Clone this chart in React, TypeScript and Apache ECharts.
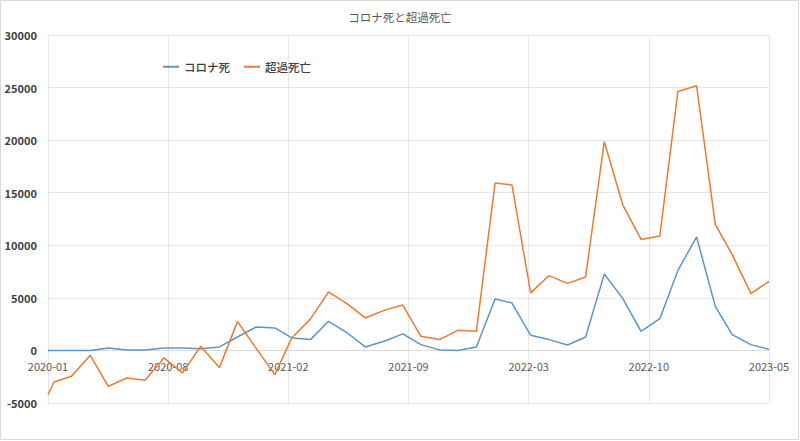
import React, { useEffect, useRef } from "react";
import * as echarts from "echarts";

const TITLE = "コロナ死と超過死亡";
const SERIES_NAMES = ["コロナ死", "超過死亡"];

const dates = [
  "2020-01-22", "2020-02-01", "2020-03-01", "2020-04-01", "2020-05-01", "2020-06-01",
  "2020-07-01", "2020-08-01", "2020-09-01", "2020-10-01", "2020-11-01", "2020-12-01",
  "2021-01-01", "2021-02-01", "2021-03-01", "2021-04-01", "2021-05-01", "2021-06-01",
  "2021-07-01", "2021-08-01", "2021-09-01", "2021-10-01", "2021-11-01", "2021-12-01",
  "2022-01-01", "2022-02-01", "2022-03-01", "2022-04-01", "2022-05-01", "2022-06-01",
  "2022-07-01", "2022-08-01", "2022-09-01", "2022-10-01", "2022-11-01", "2022-12-01",
  "2023-01-01", "2023-02-01", "2023-03-01", "2023-04-01", "2023-05-01",
];

const coronaDeaths = [
  0, 0, 0, 0, 240, 50, 50, 240, 240, 170, 330, 1280,
  2230, 2140, 1190, 1030, 2770, 1660, 330, 870, 1570, 550, 50, 0,
  330, 4900, 4510, 1440, 1030, 520, 1280, 7270, 4900, 1820, 3020, 7610,
  10790, 4190, 1500, 550, 100,
];

const excessDeaths = [
  -4200, -3000, -2460, -465, -3410, -2620, -2840, -715, -2140, 390, -1635, 2740,
  200, -2300, 1190, 3000, 5560, 4420, 3090, 3810, 4320, 1340, 1030, 1910,
  1820, 15930, 15730, 5470, 7110, 6380, 6990, 19850, 13790, 10560, 10880, 24630,
  25170, 11990, 9110, 5400, 6570,
];

const Y_MIN = -5000;
const Y_MAX = 30000;
const Y_STEP = 5000;
const X_DIVISIONS = 6;

const GRID_TOP = 35;
const GRID_BOTTOM = 38;
const CHART_H = 441;

const FONT = "'Noto Sans CJK JP', 'Noto Sans', sans-serif";

function dayNum(d: string): number {
  const [y, m, dd] = d.split("-").map(Number);
  return Date.UTC(y, m - 1, dd) / 86400000;
}

function fmtMonth(dayOffset: number, t0: number): string {
  const dt = new Date((t0 + Math.round(dayOffset)) * 86400000);
  const y = dt.getUTCFullYear();
  const m = dt.getUTCMonth() + 1;
  return `${y}-${m < 10 ? "0" + m : m}`;
}

export default function App() {
  const ref = useRef<HTMLDivElement>(null);

  useEffect(() => {
    document.body.style.margin = "0";
    if (!ref.current) return;
    const chart = echarts.init(ref.current, undefined, { renderer: "svg" });
    const t0 = dayNum(dates[0]);
    const xs = dates.map((d) => dayNum(d) - t0);
    const span = xs[xs.length - 1];
    const gridH = CHART_H - GRID_TOP - GRID_BOTTOM;
    // raise the category axis from the grid bottom up to the zero line
    const zeroOffset = -((0 - Y_MIN) / (Y_MAX - Y_MIN)) * gridH;

    chart.setOption({
      animation: false,
      backgroundColor: "#ffffff",
      title: {
        text: TITLE,
        left: "center",
        top: 6,
        textStyle: { fontSize: 11.5, fontWeight: "normal", color: "#595959", fontFamily: FONT },
      },
      legend: {
        left: 158,
        top: 56,
        icon: "rect",
        itemWidth: 16,
        itemHeight: 2,
        itemGap: 14,
        textStyle: { fontSize: 11.5, fontWeight: 500, color: "#404040", fontFamily: FONT },
        data: SERIES_NAMES,
      },
      grid: { left: 48, right: 31, top: GRID_TOP, bottom: GRID_BOTTOM, containLabel: false },
      xAxis: {
        type: "value",
        min: 0,
        max: span,
        interval: span / X_DIVISIONS,
        position: "bottom",
        offset: zeroOffset,
        axisLine: { show: true, onZero: false, lineStyle: { color: "#d9d9d9", width: 1 } },
        axisTick: { show: false },
        axisLabel: {
          fontSize: 11,
          color: "#595959",
          fontFamily: FONT,
          margin: 10,
          formatter: (v: number) => fmtMonth(v, t0),
        },
        splitLine: { show: true, lineStyle: { color: "#e6e6e6", width: 1 } },
      },
      yAxis: {
        type: "value",
        min: Y_MIN,
        max: Y_MAX,
        interval: Y_STEP,
        axisLine: { show: false, onZero: false },
        axisTick: { show: false },
        axisLabel: {
          fontSize: 11,
          fontWeight: "bold",
          color: "#404040",
          fontFamily: FONT,
          margin: 11,
          formatter: (v: number) => String(v),
        },
        splitLine: { show: true, lineStyle: { color: "#e6e6e6", width: 1 } },
      },
      series: [
        {
          name: SERIES_NAMES[0],
          type: "line",
          showSymbol: false,
          symbol: "none",
          data: coronaDeaths.map((v, i) => [xs[i], v]),
          lineStyle: { color: "#5B95CC", width: 1.5 },
          itemStyle: { color: "#5B95CC" },
        },
        {
          name: SERIES_NAMES[1],
          type: "line",
          showSymbol: false,
          symbol: "none",
          data: excessDeaths.map((v, i) => [xs[i], v]),
          lineStyle: { color: "#E87D32", width: 1.5 },
          itemStyle: { color: "#E87D32" },
        },
      ],
      graphic: [
        {
          type: "rect",
          shape: { x: 0.5, y: 0.5, width: 798, height: 439 },
          style: { fill: "none", stroke: "#d9d9d9", lineWidth: 1 },
          silent: true,
        },
      ],
    });

    return () => chart.dispose();
  }, []);

  return <div ref={ref} style={{ width: 800, height: 441 }} />;
}
